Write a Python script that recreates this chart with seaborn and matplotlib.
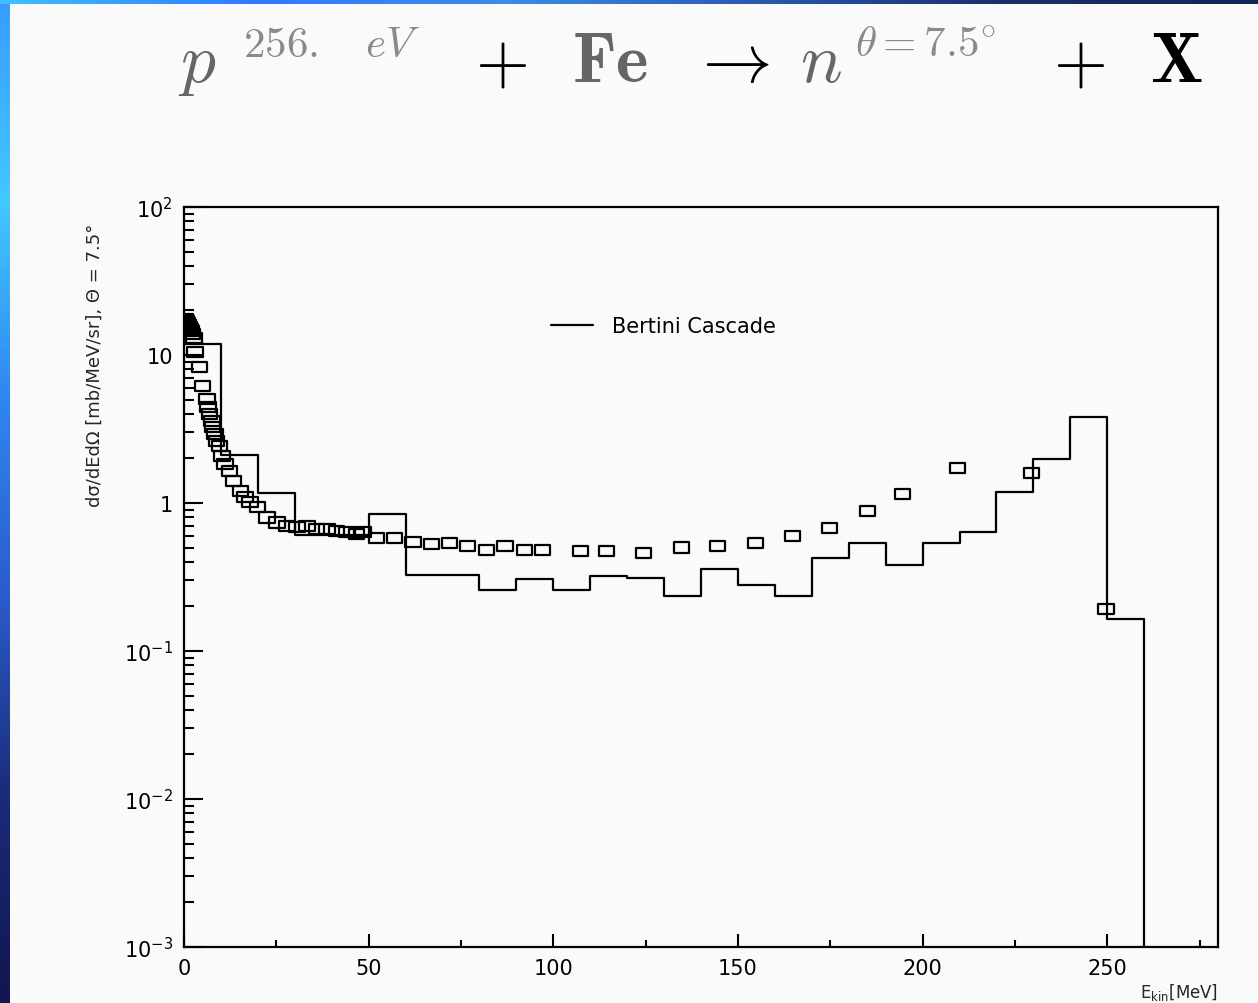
import matplotlib
matplotlib.use("Agg")
import matplotlib.pyplot as plt
import seaborn as sns
import numpy as np
import pandas as pd
from matplotlib.path import Path
from matplotlib.colors import LinearSegmentedColormap

# Bertini cascade histogram, 10 MeV bins 0..260
bin_edges = [0, 10, 20, 30, 40, 50, 60, 70, 80, 90, 100, 110, 120, 130,
             140, 150, 160, 170, 180, 190, 200, 210, 220, 230, 240, 250, 260]
bertini = [11.9, 2.1, 1.17, 0.61, 0.61, 0.84, 0.327, 0.327, 0.258, 0.306,
           0.258, 0.321, 0.31, 0.235, 0.358, 0.279, 0.235, 0.425, 0.537,
           0.381, 0.537, 0.637, 1.19, 1.98, 3.81, 0.164]

# experimental points
exp_e = [0.3, 0.6, 0.9, 1.2, 1.5, 1.8, 2.1, 2.4, 2.7, 3.0, 4.3, 5.1, 6.2,
         6.5, 7.0, 7.6, 7.8, 8.4, 8.9, 9.7, 10.3, 11.1, 12.4, 13.3, 15.2,
         16.5, 17.9, 20.0, 22.5, 25.2, 27.9, 30.6, 33.3, 35.9, 38.7, 41.4,
         44.1, 46.8, 48.5, 52.2, 57.1, 62.0, 67.1, 72.0, 76.8, 82.0, 86.9,
         92.3, 97.1, 107.4, 114.4, 124.5, 134.7, 144.5, 154.8, 164.8, 174.8,
         185.0, 194.5, 209.4, 229.4, 249.7]
exp_val = [17.5, 17.0, 16.5, 16.0, 15.5, 15.0, 14.5, 13.8, 13.0, 10.5, 8.3,
           6.2, 5.05, 4.46, 3.99, 3.58, 3.26, 2.93, 2.62, 2.43, 2.08, 1.84,
           1.64, 1.41, 1.21, 1.10, 1.02, 0.94, 0.80, 0.74, 0.70, 0.69, 0.70,
           0.67, 0.67, 0.65, 0.64, 0.62, 0.64, 0.58, 0.58, 0.545, 0.53, 0.535,
           0.51, 0.48, 0.51, 0.48, 0.48, 0.474, 0.474, 0.46, 0.50, 0.51,
           0.537, 0.60, 0.68, 0.88, 1.15, 1.72, 1.60, 0.192]

ytick_vals = [1e-3, 1e-2, 1e-1, 1, 10, 100]
ytick_labels = ["$10^{-3}$", "$10^{-2}$", "$10^{-1}$", "1", "10", "$10^{2}$"]
xtick_vals = [0, 50, 100, 150, 200, 250]

sns.set_style("ticks")
plt.rcParams["font.family"] = ["DejaVu Sans"]

fig = plt.figure(figsize=(12.58, 10.04), dpi=100, facecolor="#fafafa")

# blue gradient border (left and top)
cmap_l = LinearSegmentedColormap.from_list(
    "l", ["#3a9cff", "#42c8ff", "#2f86f0", "#2a5bc8", "#1a2a78", "#121650"])
cmap_t = LinearSegmentedColormap.from_list(
    "t", ["#40c0ff", "#2f7bff", "#3a8ce8", "#2a5ab0", "#1a2f6a", "#15245a"])
axl = fig.add_axes([0, 0, 10 / 1258, 1])
axl.imshow(np.linspace(0, 1, 256)[:, None], aspect="auto", cmap=cmap_l)
axl.axis("off")
axt = fig.add_axes([0, 1 - 5 / 1004, 1, 5 / 1004])
axt.imshow(np.linspace(0, 1, 256)[None, :], aspect="auto", cmap=cmap_t)
axt.axis("off")

ax = fig.add_axes([184 / 1258, 56 / 1004, 1034 / 1258, 740 / 1004])
ax.set_facecolor("#fafafa")
ax.set_yscale("log")

hist_df = pd.DataFrame({"E": bin_edges, "v": bertini + [1e-6]})
sns.lineplot(data=hist_df, x="E", y="v", drawstyle="steps-post",
             color="black", linewidth=1.6, ax=ax, label="Bertini Cascade")

rect = Path([(-1, -0.68), (1, -0.68), (1, 0.68), (-1, 0.68), (-1, -0.68)],
            [1, 2, 2, 2, 79])
exp_df = pd.DataFrame({"E": exp_e, "v": exp_val})
sns.scatterplot(data=exp_df, x="E", y="v", marker=rect, s=120,
                facecolors="none", edgecolor="black", linewidth=1.6,
                ax=ax, legend=False, zorder=3)

ax.set_xlim(0, 280)
ax.set_ylim(1e-3, 1e2)
ax.set_xticks(xtick_vals)
ax.set_xticks(np.arange(25, 280, 50), minor=True)
ax.set_yticks(ytick_vals)
ax.set_yticklabels(ytick_labels)
ax.tick_params(axis="both", which="both", direction="in", top=False,
               right=False, labelsize=15, width=1.5, color="black",
               labelcolor="black")
ax.tick_params(axis="y", which="major", length=14, pad=8)
ax.tick_params(axis="y", which="minor", length=7)
ax.tick_params(axis="x", which="major", length=9.5, pad=8)
ax.tick_params(axis="x", which="minor", length=5)
for s in ax.spines.values():
    s.set_linewidth(1.6)
    s.set_color("black")
ax.set_xlabel("")
ax.set_ylabel("")

leg = ax.legend(loc="upper left", bbox_to_anchor=(0.337, 0.878), frameon=False,
                fontsize=15, handlelength=2.0, handletextpad=0.9)
for t in leg.get_texts():
    t.set_color("black")

fig.text(95 / 1258, 1 - 365 / 1004,
         "d\u03c3/dEd\u03a9 [mb/MeV/sr], \u0398 = 7.5\u00b0",
         rotation=90, ha="center", va="center", fontsize=13)
fig.text(1218 / 1258, 1 - 993 / 1004, r"$\mathregular{E_{kin}}$[MeV]",
         ha="right", va="center", fontsize=12)

# title pieces (Computer Modern math)
base = 1 - 82 / 1004
sup = 1 - 57 / 1004
big = 50
small = 31
pieces = [
    (178, base, r"$p$", big, "#666666"),
    (243, sup, r"$\mathrm{256.}$", small, "#8a8a8a"),
    (365, sup, r"$eV$", small, "#8a8a8a"),
    (475, base, r"$+$", big, "black"),
    (572, base, r"$\mathbf{Fe}$", big, "#666666"),
    (690, base, r"$\rightarrow$", big, "black"),
    (800, base, r"$n$", big, "#666666"),
    (855, sup, r"$\theta\mathrm{=7.5}^{\circ}$", small, "#8a8a8a"),
    (1053, base, r"$+$", big, "black"),
    (1150, base, r"$\mathbf{X}$", big, "black"),
]
for px, py, txt, fs, col in pieces:
    fig.text(px / 1258, py, txt, fontsize=fs, color=col, math_fontfamily="cm")

fig.savefig("out.png", dpi=100, facecolor=fig.get_facecolor())
